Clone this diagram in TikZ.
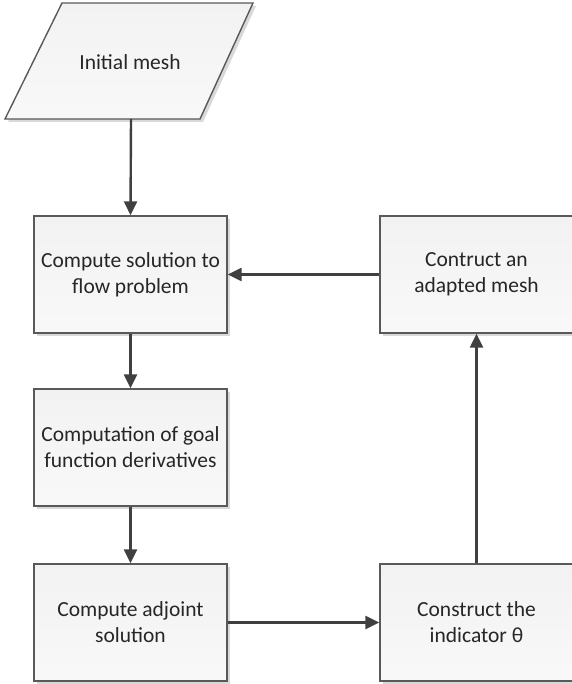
\documentclass[tikz,border=0pt]{standalone}
\usepackage{fontspec}
\setmainfont{Carlito}
\usetikzlibrary{arrows.meta,shapes.geometric,shadows}
\definecolor{edgec}{HTML}{595959}
\definecolor{arrc}{HTML}{404040}
\definecolor{fillc}{HTML}{F2F2F2}
\definecolor{shadc}{HTML}{D9D9D9}
\definecolor{textc}{HTML}{262626}
\begin{document}
\begin{tikzpicture}[x=1pt,y=-1pt,
  boxstyle/.style={draw=edgec,line width=1.4pt,top color=fillc,bottom color=fillc!50!white,
    minimum width=193pt,minimum height=117pt,inner sep=0pt,align=center,
    font=\fontsize{21.5}{26}\selectfont,text=textc,
    drop shadow={shadow xshift=3pt,shadow yshift=-3pt,fill=shadc,opacity=1}},
  flowarrow/.style={draw=arrc,line width=2.4pt,-{Triangle[length=14pt,width=13pt]}}]
\useasboundingbox (0,0) rectangle (571,684);
% parallelogram
\fill[shadc] (65,6) -- (256,6) -- (203,122) -- (8,122) -- cycle;
\path[draw=edgec,line width=1.4pt,top color=fillc,bottom color=fillc!50!white]
  (62,3) -- (253,3) -- (200,119) -- (5,119) -- cycle;
\node[font=\fontsize{21.5}{26}\selectfont,text=textc] (init) at (130,62) {Initial mesh};
\coordinate (initb) at (131,119);
\node[boxstyle] (flow) at (130.5,274.5) {Compute solution to\\flow problem};
\node[boxstyle] (goal) at (130.5,447.5) {Computation of goal\\function derivatives};
\node[boxstyle] (adj) at (130.5,622.5) {Compute adjoint\\solution};
\node[boxstyle] (adapt) at (476.5,274.5) {Contruct an\\adapted mesh};
\node[boxstyle] (ind) at (476.5,622.5) {Construct the\\indicator θ};
\draw[flowarrow] (initb) -- (flow.north);
\draw[flowarrow] (flow) -- (goal);
\draw[flowarrow] (goal) -- (adj);
\draw[flowarrow] (adj) -- (ind);
\draw[flowarrow] (ind) -- (adapt);
\draw[flowarrow] (adapt) -- (flow);
\end{tikzpicture}
\end{document}
